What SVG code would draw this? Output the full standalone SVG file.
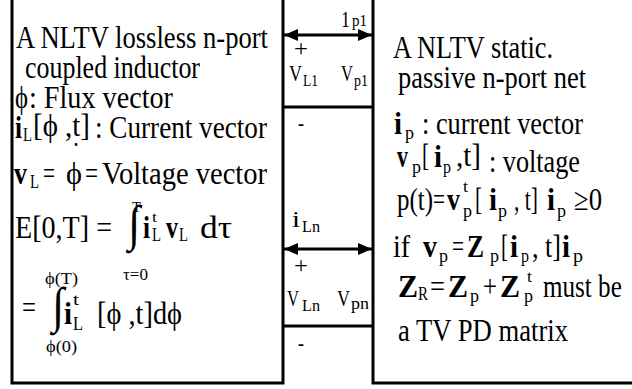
<svg xmlns="http://www.w3.org/2000/svg" width="632" height="389" viewBox="0 0 632 389" font-family="'Liberation Serif', serif">
<style>
text{font-family:'Liberation Serif','Times New Roman',serif;fill:#000;font-size:32px}
.b{font-weight:bold}
.s{font-size:19px}
.ss{font-size:15px}
.m{font-size:24px}
.ms{font-size:17px}
.int{font-size:50px}
.ln{stroke:#000;stroke-width:3;fill:none}
</style>
<defs>
<marker id="ah" viewBox="0 0 14 12" refX="14" refY="6" markerWidth="14" markerHeight="12" markerUnits="userSpaceOnUse" orient="auto-start-reverse">
<path d="M0,0 L14,6 L0,12 z" fill="#000"/>
</marker>
</defs>
<rect width="632" height="389" fill="#fff"/>

<g id="inductor">
<path class="ln" d="M12,0 V383 H283 V0"/>
<text x="16" y="48" textLength="252" lengthAdjust="spacingAndGlyphs">A NLTV lossless n-port</text>
<text x="25" y="78" textLength="175" lengthAdjust="spacingAndGlyphs">coupled inductor</text>
<text x="15" y="108" textLength="13" lengthAdjust="spacingAndGlyphs">ϕ</text>
<text x="29" y="108" textLength="144" lengthAdjust="spacingAndGlyphs">: Flux vector</text>
<text class="b" x="15" y="138" textLength="7" lengthAdjust="spacingAndGlyphs">i</text>
<text class="s" x="23" y="141" textLength="9" lengthAdjust="spacingAndGlyphs">L</text>
<text x="33" y="136" textLength="57" lengthAdjust="spacingAndGlyphs">[ϕ ,t]</text>
<text x="95" y="138" textLength="172" lengthAdjust="spacingAndGlyphs">: Current vector</text>
<text class="b" x="14" y="184" textLength="13" lengthAdjust="spacingAndGlyphs">v</text>
<text class="s" x="30" y="188" textLength="9" lengthAdjust="spacingAndGlyphs">L</text>
<text x="43" y="184" textLength="12" lengthAdjust="spacingAndGlyphs">=</text>
<text x="66" y="184" textLength="16" lengthAdjust="spacingAndGlyphs">ϕ</text>
<text x="72" y="164" textLength="8" lengthAdjust="spacingAndGlyphs">˙</text>
<text x="85" y="184" textLength="13" lengthAdjust="spacingAndGlyphs">=</text>
<text x="102" y="184" textLength="165" lengthAdjust="spacingAndGlyphs">Voltage vector</text>
<text x="15" y="238" textLength="97" lengthAdjust="spacingAndGlyphs">E[0,T] =</text>
<text class="int" x="128" y="240" textLength="12" lengthAdjust="spacingAndGlyphs">∫</text>
<text class="ss" x="132" y="212" textLength="9" lengthAdjust="spacingAndGlyphs">T</text>
<text class="b" x="143" y="238" textLength="7" lengthAdjust="spacingAndGlyphs">i</text>
<text class="ss" x="152" y="222" textLength="5" lengthAdjust="spacingAndGlyphs">t</text>
<text class="s" x="152" y="241" textLength="9" lengthAdjust="spacingAndGlyphs">L</text>
<text class="b" x="166" y="238" textLength="12" lengthAdjust="spacingAndGlyphs">v</text>
<text class="s" x="179" y="241" textLength="9" lengthAdjust="spacingAndGlyphs">L</text>
<text x="200" y="238" textLength="32" lengthAdjust="spacingAndGlyphs">dτ</text>
<text class="ms" x="123" y="280" textLength="25" lengthAdjust="spacingAndGlyphs">τ=0</text>
<text class="ms" x="45" y="284" textLength="33" lengthAdjust="spacingAndGlyphs">ϕ(T)</text>
<text x="22" y="318" textLength="14" lengthAdjust="spacingAndGlyphs">=</text>
<text class="int" x="52" y="322" textLength="12" lengthAdjust="spacingAndGlyphs">∫</text>
<text class="b" x="64" y="324" textLength="8" lengthAdjust="spacingAndGlyphs">i</text>
<text class="ms" x="73" y="305" textLength="6" lengthAdjust="spacingAndGlyphs">t</text>
<text class="s" x="73" y="330" textLength="10" lengthAdjust="spacingAndGlyphs">L</text>
<text x="97" y="324" textLength="85" lengthAdjust="spacingAndGlyphs">[ϕ ,t]dϕ</text>
<text class="ms" x="46" y="352" textLength="31" lengthAdjust="spacingAndGlyphs">ϕ(0)</text>
</g>

<g id="passive-net">
<path class="ln" d="M373,0 V383 H632"/>
<text x="393" y="58" textLength="160" lengthAdjust="spacingAndGlyphs">A NLTV static.</text>
<text x="398" y="88" textLength="188" lengthAdjust="spacingAndGlyphs">passive n-port net</text>
<text class="b" x="394" y="134" textLength="8" lengthAdjust="spacingAndGlyphs">i</text>
<text class="s" x="405" y="139" textLength="9" lengthAdjust="spacingAndGlyphs">p</text>
<text x="422" y="134" textLength="161" lengthAdjust="spacingAndGlyphs">: current vector</text>
<text class="b" x="397" y="167" textLength="11" lengthAdjust="spacingAndGlyphs">v</text>
<text class="s" x="412" y="173" textLength="9" lengthAdjust="spacingAndGlyphs">p</text>
<text x="422" y="166" textLength="7" lengthAdjust="spacingAndGlyphs">[</text>
<text class="b" x="434" y="167" textLength="8" lengthAdjust="spacingAndGlyphs">i</text>
<text class="s" x="443" y="173" textLength="8" lengthAdjust="spacingAndGlyphs">p</text>
<text x="456" y="166" textLength="25" lengthAdjust="spacingAndGlyphs">,t]</text>
<text x="489" y="172" textLength="91" lengthAdjust="spacingAndGlyphs">: voltage</text>
<text x="397" y="210" textLength="36" lengthAdjust="spacingAndGlyphs">p(t)</text>
<text x="433" y="210" textLength="12" lengthAdjust="spacingAndGlyphs">=</text>
<text class="b" x="447" y="210" textLength="13" lengthAdjust="spacingAndGlyphs">v</text>
<text class="ms" x="463" y="192" textLength="5" lengthAdjust="spacingAndGlyphs">t</text>
<text class="s" x="463" y="217" textLength="9" lengthAdjust="spacingAndGlyphs">p</text>
<text x="475" y="210" textLength="7" lengthAdjust="spacingAndGlyphs">[</text>
<text class="b" x="489" y="210" textLength="8" lengthAdjust="spacingAndGlyphs">i</text>
<text class="s" x="498" y="217" textLength="9" lengthAdjust="spacingAndGlyphs">p</text>
<text x="514" y="210" textLength="24" lengthAdjust="spacingAndGlyphs">, t]</text>
<text class="b" x="547" y="210" textLength="8" lengthAdjust="spacingAndGlyphs">i</text>
<text class="s" x="557" y="217" textLength="9" lengthAdjust="spacingAndGlyphs">p</text>
<text x="574" y="210" textLength="28" lengthAdjust="spacingAndGlyphs">≥0</text>
<text x="393" y="257" textLength="17" lengthAdjust="spacingAndGlyphs">if</text>
<text class="b" x="423" y="257" textLength="14" lengthAdjust="spacingAndGlyphs">v</text>
<text class="s" x="439" y="262" textLength="9" lengthAdjust="spacingAndGlyphs">p</text>
<text x="452" y="257" textLength="12" lengthAdjust="spacingAndGlyphs">=</text>
<text class="b" x="467" y="257" textLength="17" lengthAdjust="spacingAndGlyphs">Z</text>
<text class="s" x="490" y="262" textLength="9" lengthAdjust="spacingAndGlyphs">p</text>
<text x="501" y="257" textLength="7" lengthAdjust="spacingAndGlyphs">[</text>
<text class="b" x="510" y="257" textLength="8" lengthAdjust="spacingAndGlyphs">i</text>
<text class="s" x="521" y="262" textLength="8" lengthAdjust="spacingAndGlyphs">p</text>
<text x="532" y="257" textLength="29" lengthAdjust="spacingAndGlyphs">, t]</text>
<text class="b" x="562" y="257" textLength="8" lengthAdjust="spacingAndGlyphs">i</text>
<text class="s" x="573" y="262" textLength="10" lengthAdjust="spacingAndGlyphs">p</text>
<text class="b" x="398" y="297" textLength="20" lengthAdjust="spacingAndGlyphs">Z</text>
<text class="s" x="418" y="300" textLength="10" lengthAdjust="spacingAndGlyphs">R</text>
<text x="430" y="297" textLength="15" lengthAdjust="spacingAndGlyphs">=</text>
<text class="b" x="448" y="297" textLength="20" lengthAdjust="spacingAndGlyphs">Z</text>
<text class="s" x="470" y="302" textLength="9" lengthAdjust="spacingAndGlyphs">p</text>
<text x="483" y="297" textLength="14" lengthAdjust="spacingAndGlyphs">+</text>
<text class="b" x="500" y="297" textLength="20" lengthAdjust="spacingAndGlyphs">Z</text>
<text class="ms" x="527" y="282" textLength="5" lengthAdjust="spacingAndGlyphs">t</text>
<text class="s" x="524" y="302" textLength="9" lengthAdjust="spacingAndGlyphs">p</text>
<text transform="translate(543 297) scale(0.785 1)">must be</text>
<text x="398" y="341" textLength="170" lengthAdjust="spacingAndGlyphs">a TV PD matrix</text>
</g>

<g id="port-1">
<line class="ln" x1="283" y1="107" x2="373" y2="107"/>
<text class="m" x="341" y="27" textLength="9" lengthAdjust="spacingAndGlyphs">1</text>
<text class="ms" x="352" y="26" textLength="15" lengthAdjust="spacingAndGlyphs">p1</text>
<text class="m" x="294" y="56" textLength="14" lengthAdjust="spacingAndGlyphs">+</text>
<text class="m" x="289" y="81" textLength="13" lengthAdjust="spacingAndGlyphs">V</text>
<text class="ms" x="303" y="86" textLength="15" lengthAdjust="spacingAndGlyphs">L1</text>
<text class="m" x="341" y="81" textLength="12" lengthAdjust="spacingAndGlyphs">V</text>
<text class="ms" x="354" y="86" textLength="14" lengthAdjust="spacingAndGlyphs">p1</text>
<text class="m" x="298" y="131" textLength="6" lengthAdjust="spacingAndGlyphs">-</text>
</g>

<g id="port-n">
<line class="ln" x1="283" y1="326" x2="373" y2="326"/>
<text class="m" x="292" y="227" textLength="8" lengthAdjust="spacingAndGlyphs">i</text>
<text class="ms" x="302" y="232" textLength="18" lengthAdjust="spacingAndGlyphs">Ln</text>
<text class="m" x="294" y="273" textLength="14" lengthAdjust="spacingAndGlyphs">+</text>
<text class="m" x="287" y="306" textLength="12" lengthAdjust="spacingAndGlyphs">V</text>
<text class="ms" x="302" y="311" textLength="18" lengthAdjust="spacingAndGlyphs">Ln</text>
<text class="m" x="337" y="306" textLength="13" lengthAdjust="spacingAndGlyphs">V</text>
<text class="ms" x="351" y="309" textLength="18" lengthAdjust="spacingAndGlyphs">pn</text>
<text class="m" x="298" y="351" textLength="6" lengthAdjust="spacingAndGlyphs">-</text>
</g>

<g id="connectors">
<line class="ln" x1="284" y1="35" x2="372" y2="35" marker-start="url(#ah)" marker-end="url(#ah)"/>
<line class="ln" x1="284" y1="249" x2="372" y2="249" marker-start="url(#ah)" marker-end="url(#ah)"/>
</g>
</svg>
